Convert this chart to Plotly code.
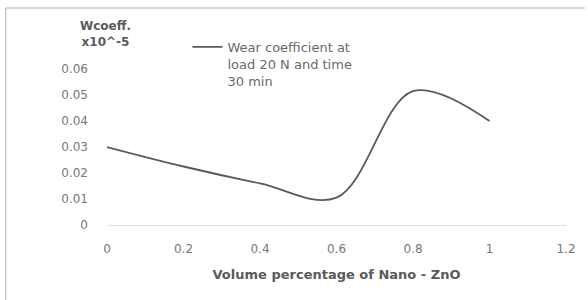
import plotly.graph_objects as go

x_vals = [0, 0.2, 0.4, 0.6, 0.8, 1.0]
wear_coeff = [0.030, 0.0225, 0.016, 0.0105, 0.0515, 0.040]
series_name = "Wear coefficient at<br>load 20 N and time<br>30 min"
x_ticks = [0, 0.2, 0.4, 0.6, 0.8, 1, 1.2]
x_tick_labels = ["0", "0.2", "0.4", "0.6", "0.8", "1", "1.2"]
y_ticks = [0, 0.01, 0.02, 0.03, 0.04, 0.05, 0.06]
y_tick_labels = ["0", "0.01", "0.02", "0.03", "0.04", "0.05", "0.06"]

W, H = 588, 300
L, R, T, B = 107, 19, 69, 75
pw, ph = W - L - R, H - T - B

def px(xp):
    return (xp - L) / pw

def py(yp):
    return (H - B - yp) / ph

fig = go.Figure()
fig.add_trace(go.Scatter(
    x=x_vals, y=wear_coeff, mode="lines", name=series_name,
    line=dict(color="#5a5a5a", width=1.8, shape="spline", smoothing=1.0),
    showlegend=True,
))

font_fam = "DejaVu Sans"
fig.update_layout(
    width=W, height=H,
    margin=dict(l=L, r=R, t=T, b=B),
    paper_bgcolor="white", plot_bgcolor="white",
    font=dict(family=font_fam, color="#6a6a6a", size=12),
    xaxis=dict(range=[0, 1.2], tickvals=x_ticks, ticktext=x_tick_labels,
               showgrid=False, zeroline=False, showline=True,
               linecolor="#e0e0e0", linewidth=1, ticks="",
               ticklabelstandoff=13,
               tickfont=dict(size=12, color="#777777"),
               title=dict(text="<b>Volume percentage of Nano - ZnO</b>",
                          font=dict(size=13, color="#5a5a5a"), standoff=14)),
    yaxis=dict(range=[0, 0.06], tickvals=y_ticks, ticktext=y_tick_labels,
               showgrid=False, zeroline=False, showline=False, ticks="",
               ticklabelstandoff=18,
               tickfont=dict(size=12, color="#777777")),
    legend=dict(x=px(188), y=py(32), xanchor="left", yanchor="top",
                bgcolor="rgba(0,0,0,0)", valign="top",
                font=dict(size=13, color="#6a6a6a"), tracegroupgap=0),
    annotations=[
        dict(text="<b>Wcoeff.<br>x10^-5</b>", x=px(105), y=py(34),
             xref="paper", yref="paper", xanchor="center", yanchor="middle",
             showarrow=False, align="center",
             font=dict(size=12, color="#5a5a5a")),
    ],
    shapes=[
        dict(type="line", xref="paper", yref="paper",
             x0=px(5), x1=px(5), y0=py(8), y1=py(300),
             line=dict(color="#c8c8c8", width=1.5)),
        dict(type="line", xref="paper", yref="paper",
             x0=px(5), x1=px(588), y0=py(8), y1=py(8),
             line=dict(color="#c8c8c8", width=1.5)),
    ],
)

fig.write_html("out.html", config={"displayModeBar": False},
               post_script="document.body.style.margin='0';")
